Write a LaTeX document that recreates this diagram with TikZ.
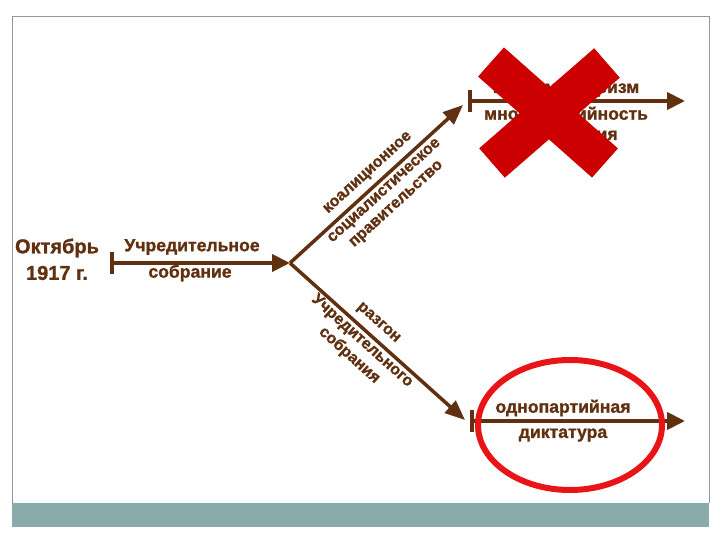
\documentclass[tikz,border=0pt]{standalone}
\usepackage{fontspec}
\setmainfont{Liberation Sans}[BoldFeatures={FakeBold=1.2}]
\usetikzlibrary{arrows.meta,calc,shapes.geometric}
\definecolor{brn}{RGB}{96,48,16}
\definecolor{xred}{RGB}{204,0,0}
\definecolor{ored}{RGB}{232,20,24}
\definecolor{bandc}{RGB}{138,171,171}
\definecolor{framec}{RGB}{150,150,150}
\begin{document}
\begin{tikzpicture}[x=1pt,y=1pt,
  lbl/.style={font=\bfseries\fontsize{17.6}{17.6}\selectfont, text=brn, inner sep=0pt},
  big/.style={font=\bfseries\fontsize{20}{20}\selectfont, text=brn, inner sep=0pt},
  dlbl/.style={font=\bfseries\fontsize{16}{16}\selectfont, text=brn, inner sep=0pt},
  conn/.style={draw=brn, line width=4pt, {Bar[width=22pt,line width=4pt]}-{Triangle[length=18pt,width=17pt]}},
  diag/.style={draw=brn, line width=3.5pt, -{Triangle[length=20pt,width=16pt]}},
  xbar/.style={draw=xred, line width=39pt, line cap=butt},
]
\useasboundingbox (0,0) rectangle (720,540);
\fill[white] (0,0) rectangle (720,540);
\fill[bandc] (12,13) rectangle (709,37);
\draw[framec, line width=1pt] (12,37) -- (12,523) -- (709,523) -- (709,37);

\coordinate (A) at (110,277);
\coordinate (B) at (290,277);
\coordinate (U) at (463,435);
\coordinate (Us) at (468,439);
\coordinate (Ue) at (685,439);
\coordinate (L) at (465,120);
\coordinate (Ls) at (470,119);
\coordinate (Le) at (685,119);

% left
\node[big] (okt) at (57,292) {Октябрь};
\node[big] (yr) at (57,267) {1917 г.};
\node[lbl] (uch) at (192,293) {Учредительное};
\node[lbl] (sob) at (190,267) {собрание};
\draw[conn] (A) -- (B);

% diagonals
\draw[diag] (B) -- (U);
\draw[diag] (B) -- (L);
\coordinate (M1) at ($(B)!0.505!(U)$);
\coordinate (M2) at ($(B)!0.45!(L)$);
\node[dlbl, rotate=42.4] (k1) at ($(M1)!13.5pt!90:(U)$) {коалиционное};
\node[dlbl, rotate=42.4] (k2) at ($(M1)!11pt!-90:(U)$) {социалистическое};
\node[dlbl, rotate=42.4] (k3) at ($(M1)!29pt!-90:(U)$) {правительство};
\node[dlbl, rotate=-41.9] (r1) at ($(M2)!14pt!90:(L)$) {разгон};
\node[dlbl, rotate=-41.9] (r2) at ($(M2)!10pt!-90:(L)$) {Учредительного};
\node[dlbl, rotate=-41.9] (r3) at ($(M2)!29pt!-90:(L)$) {собрания};

% upper branch
\node[lbl] (p1) at (566,450) {парламентаризм};
\node[lbl] (p2) at (566,425) {многопартийность};
\node[lbl] (p3) at (566,403) {демократия};
\draw[conn] (Us) -- (Ue);
\coordinate (X1) at (491,478);
\coordinate (X2) at (605,377);
\coordinate (X3) at (607,477);
\coordinate (X4) at (492,377);
\draw[xbar] (X1) -- (X2);
\draw[xbar] (X3) -- (X4);

% lower branch
\node[lbl] (o1) at (563,132) {однопартийная};
\node[lbl] (o2) at (563,105) {диктатура};
\draw[conn] (Ls) -- (Le);
\node[draw=ored, line width=6pt, ellipse, minimum width=184pt, minimum height=130pt, inner sep=0pt] (ell) at (570,115) {};
\end{tikzpicture}
\end{document}
